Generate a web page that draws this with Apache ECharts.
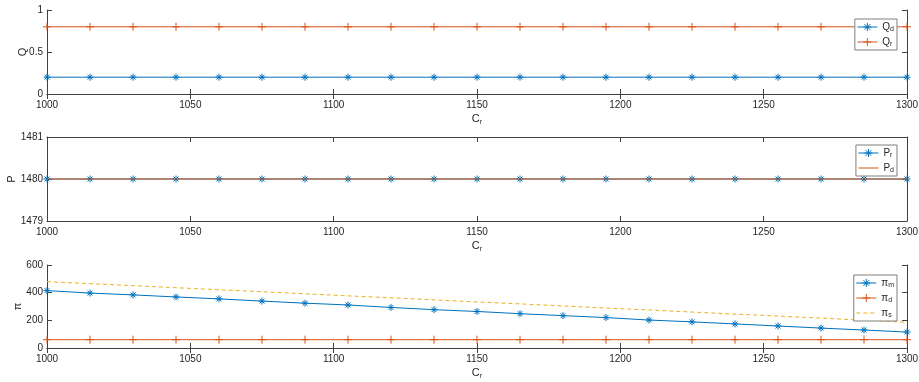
<!DOCTYPE html>
<html>
<head>
<meta charset="utf-8">
<script src="https://cdn.jsdelivr.net/npm/echarts@6/dist/echarts.min.js"></script>
<style>html,body{margin:0;padding:0;background:#fff;}#c{width:919px;height:382px;}</style>
</head>
<body>
<div id="c"></div>
<script>
// ---- data ----
const cr = [1000,1015,1030,1045,1060,1075,1090,1105,1120,1135,1150,1165,1180,1195,1210,1225,1240,1255,1270,1285,1300];
const qd = [0.2,0.2,0.2,0.2,0.2,0.2,0.2,0.2,0.2,0.2,0.2,0.2,0.2,0.2,0.2,0.2,0.2,0.2,0.2,0.2,0.2];
const qr = [0.8,0.8,0.8,0.8,0.8,0.8,0.8,0.8,0.8,0.8,0.8,0.8,0.8,0.8,0.8,0.8,0.8,0.8,0.8,0.8,0.8];
const pr = [1480,1480,1480,1480,1480,1480,1480,1480,1480,1480,1480,1480,1480,1480,1480,1480,1480,1480,1480,1480,1480];
const pd = [1480,1480,1480,1480,1480,1480,1480,1480,1480,1480,1480,1480,1480,1480,1480,1480,1480,1480,1480,1480,1480];
const piM = [415,397,384,369,355,339,324,311,293,277,264,248,234,220,202,189,174,159,144,130,115];
const piD = [60,60,60,60,60,60,60,60,60,60,60,60,60,60,60,60,60,60,60,60,60];
const piS = [480,465,451,436,421,407,392,377,363,348,333,319,304,289,275,260,245,231,216,201,186];
const xTicks = [1000,1050,1100,1150,1200,1250,1300];
const yRanges = [[0,1,0.5],[1479,1481,1],[0,600,200]];
const yNames = ['Q','P','π'];

// ---- style ----
const FONT = 'Liberation Sans';
const AX = '#404040';
const BLUE = '#0072BD', ORANGE = '#D95319', YELLOW = '#EDB120';
const STAR = 'path://M0,-5L0,5M-5,0L5,0M-3.5,-3.5L3.5,3.5M-3.5,3.5L3.5,-3.5';
const PLUS = 'path://M0,-5L0,5M-5,0L5,0';
const tops = [10, 137, 265];
const heights = [84, 84, 83];
const nameGaps = [19, 30, 24];

const rich = {
  n: {fontFamily: FONT, fontSize: 11, color: '#262626', lineHeight: 12},
  s: {fontFamily: FONT, fontSize: 7, color: '#262626', lineHeight: 12, padding: [6,0,0,0]}
};

const grid = [], xAxis = [], yAxis = [];
for (let i = 0; i < 3; i++) {
  grid.push({left: 47, right: 12, top: tops[i], height: heights[i], containLabel: false, outerBoundsMode: 'none'});
  const common = {
    gridIndex: i, type: 'value', min: xTicks[0], max: xTicks[xTicks.length-1], interval: 50,
    axisLine: {show: true, lineStyle: {color: AX, width: 1}},
    axisTick: {show: true, inside: true, length: 5, lineStyle: {color: AX}},
    splitLine: {show: false}
  };
  xAxis.push(Object.assign({}, common, {
    position: 'bottom',
    axisLabel: {show: true, margin: 6, color: '#262626', fontFamily: FONT, fontSize: 10,
      formatter: function (v) { return String(v); }},
    name: '{n|C}{s|r}', nameLocation: 'middle', nameGap: 19, nameMoveOverlap: false,
    nameTextStyle: {rich: rich}
  }));
  xAxis.push(Object.assign({}, common, {position: 'top', axisLabel: {show: false}}));
  const yc = {
    gridIndex: i, type: 'value', min: yRanges[i][0], max: yRanges[i][1], interval: yRanges[i][2],
    axisLine: {show: true, lineStyle: {color: AX, width: 1}},
    axisTick: {show: true, inside: true, length: 5, lineStyle: {color: AX}},
    splitLine: {show: false}
  };
  yAxis.push(Object.assign({}, yc, {
    position: 'left',
    axisLabel: {show: true, margin: 4, color: '#262626', fontFamily: FONT, fontSize: 10,
      formatter: function (v) { return String(v); }},
    name: yNames[i], nameLocation: 'middle', nameRotate: 90, nameGap: nameGaps[i], nameMoveOverlap: false,
    nameTextStyle: {fontFamily: FONT, fontSize: 11, color: '#262626'}
  }));
  yAxis.push(Object.assign({}, yc, {position: 'right', axisLabel: {show: false}}));
}

function mk(name, gi, arr, color, symbol, size, dashed, z) {
  return {
    name: name, type: 'line', xAxisIndex: gi*2, yAxisIndex: gi*2,
    data: cr.map((x, k) => [x, arr[k]]),
    symbol: symbol || 'none', symbolSize: size || 0, showSymbol: !!symbol,
    lineStyle: {color: color, width: 1, type: dashed ? [4,3] : 'solid'},
    itemStyle: {color: color, borderColor: color, borderWidth: 1},
    emphasis: {disabled: true}, z: z || 2, clip: false
  };
}

const series = [
  mk('Qd', 0, qd, BLUE, STAR, 7),
  mk('Qr', 0, qr, ORANGE, PLUS, 8),
  mk('Pr', 1, pr, BLUE, STAR, 7, false, 2),
  mk('Pd', 1, pd, ORANGE, null, 0, false, 3),
  mk('πm', 2, piM, BLUE, STAR, 7),
  mk('πd', 2, piD, ORANGE, PLUS, 8),
  mk('πs', 2, piS, YELLOW, null, 0, true)
];

const legRich = {
  n: {fontFamily: FONT, fontSize: 10, color: '#262626', lineHeight: 12},
  s: {fontFamily: FONT, fontSize: 7, color: '#262626', lineHeight: 12, padding: [5,0,0,0]}
};
const noSym = ['Pd', 'πs'];
function legend(names, top) {
  return {
    data: names.map(n => noSym.indexOf(n) >= 0 ? {name: n, itemStyle: {opacity: 0}} : {name: n}),
    orient: 'vertical', right: 22, top: top,
    backgroundColor: '#fff', borderColor: '#7f7f7f', borderWidth: 1, borderRadius: 0,
    padding: [2, 3, 2, 2], itemGap: 3, itemWidth: 20, itemHeight: 10,
    selectedMode: false,
    itemStyle: {borderWidth: 1},
    lineStyle: {width: 1},
    formatter: function (nm) { return '{n|' + nm.charAt(0) + '}{s|' + nm.slice(1) + '}'; },
    textStyle: {rich: legRich}
  };
}

const chart = echarts.init(document.getElementById('c'), null, {renderer: 'canvas'});
chart.setOption({
  animation: false,
  backgroundColor: '#fff',
  grid: grid, xAxis: xAxis, yAxis: yAxis, series: series,
  legend: [legend(['Qd','Qr'], 19), legend(['Pr','Pd'], 145), legend(['πm','πd','πs'], 275)]
});
</script>
</body>
</html>
